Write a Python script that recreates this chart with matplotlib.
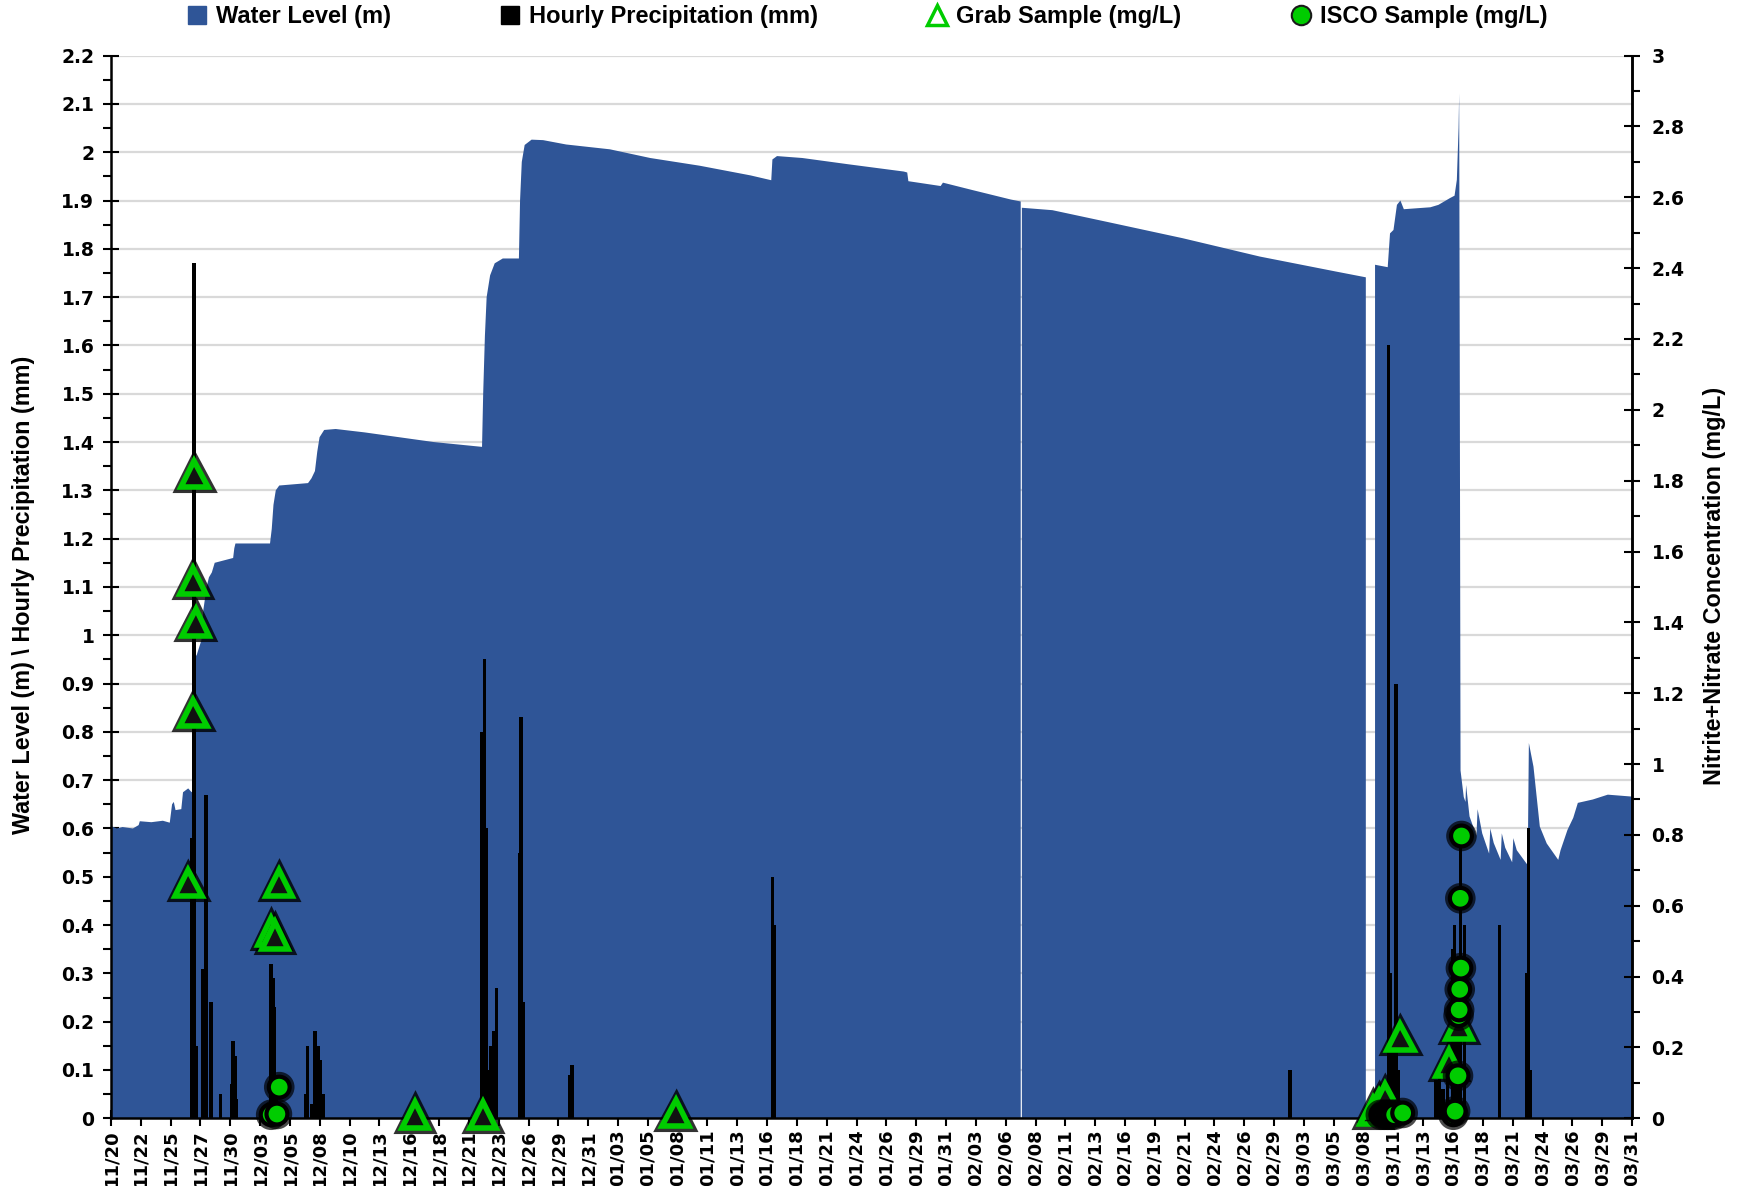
import numpy as np
import matplotlib
matplotlib.use("Agg")
import matplotlib.pyplot as plt
from matplotlib.lines import Line2D
from matplotlib import patheffects as pe
from matplotlib.ticker import MultipleLocator, FuncFormatter

# ---- data (x = days since 11/20) ----
level_day = [0.0, 0.5, 1.0, 1.9, 2.4, 2.5, 3.5, 4.5, 5.1, 5.3, 5.45, 5.6, 6.1, 6.25, 6.7, 7.0,
             7.15, 7.2, 7.45, 7.85, 8.0, 8.3, 8.5, 8.75, 9.0, 10.6, 10.7, 10.8, 13.8, 13.95,
             14.1, 14.3, 14.6, 17.1, 17.4, 17.7, 17.9, 18.1, 18.5, 19.5, 22.0, 25.0, 28.0,
             32.2, 32.3, 32.45, 32.6, 32.9, 33.3, 34.0, 35.4, 35.5, 35.65, 35.9, 36.5, 37.5,
             39.5, 43.3, 46.8, 51.1, 55.5, 57.3, 57.4, 57.8, 60.0, 64.0, 68.8, 69.1, 69.2,
             72.0, 72.2, 74.7, 78.1, 78.95, 79.0, 79.05, 81.7, 86.4, 93.0, 99.7, 106.3,
             108.9, 108.95, 109.65, 109.7, 110.8, 111.0, 111.3, 111.6, 111.9, 112.2, 114.5,
             115.2, 116.2, 116.6, 116.8, 116.95, 117.0, 117.05, 117.12, 117.4, 117.55, 117.6,
             117.9, 118.5, 118.6, 119.0, 119.6, 119.7, 120.0, 120.6, 120.7, 121.0, 121.6,
             121.7, 122.0, 122.95, 123.05, 123.45, 124.0, 124.6, 125.6, 125.8, 126.4, 126.9,
             127.3, 128.6, 129.9, 132.0]
level_m = [0.605, 0.600, 0.603, 0.600, 0.607, 0.615, 0.613, 0.616, 0.612, 0.650, 0.655, 0.638,
           0.640, 0.675, 0.683, 0.675, 0.680, 0.950, 0.960, 0.990, 1.05, 1.10, 1.12, 1.13,
           1.15, 1.16, 1.18, 1.19, 1.19, 1.22, 1.27, 1.30, 1.31, 1.315, 1.325, 1.34, 1.38,
           1.41, 1.425, 1.427, 1.42, 1.41, 1.40, 1.390, 1.50, 1.62, 1.70, 1.745, 1.77, 1.78,
           1.78, 1.90, 1.98, 2.015, 2.026, 2.025, 2.016, 2.006, 1.988, 1.972, 1.952, 1.942,
           1.985, 1.992, 1.988, 1.975, 1.960, 1.958, 1.940, 1.930, 1.937, 1.922, 1.902,
           1.898, np.nan, 1.885, 1.880, 1.856, 1.822, 1.784, 1.753, 1.741, np.nan, np.nan,
           1.767, 1.762, 1.832, 1.839, 1.891, 1.900, 1.882, 1.886, 1.891, 1.905, 1.91,
           1.943, 2.05, 2.122, 1.60, 0.72, 0.665, 0.655, 0.69, 0.625, 0.585, 0.64, 0.59,
           0.548, 0.60, 0.57, 0.535, 0.59, 0.56, 0.53, 0.58, 0.555, 0.524, 0.777, 0.728,
           0.604, 0.569, 0.535, 0.555, 0.597, 0.622, 0.653, 0.660, 0.670, 0.666]

precip_day = [7.0, 7.2, 7.4, 7.96, 8.1, 8.25, 8.68, 9.5, 10.45, 10.6, 10.75, 10.9, 13.9, 14.05,
              14.2, 14.35, 16.9, 17.05, 17.4, 17.7, 18.0, 18.15, 18.45, 32.2, 32.4, 32.6,
              32.75, 32.95, 33.25, 33.45, 35.45, 35.6, 35.8, 39.8, 40.0, 57.4, 57.6, 102.3,
              110.6, 110.85, 111.05, 111.25, 111.5, 111.7, 115.0, 115.3, 115.6, 116.0, 116.4,
              116.6, 116.8, 117.1, 117.45, 120.5, 122.9, 123.0, 123.15]
precip_mm = [0.58, 1.77, 0.15, 0.31, 0.12, 0.67, 0.24, 0.05, 0.07, 0.16, 0.13, 0.04, 0.32, 0.29,
             0.23, 0.05, 0.05, 0.15, 0.03, 0.18, 0.15, 0.12, 0.05, 0.80, 0.95, 0.60, 0.10,
             0.15, 0.18, 0.27, 0.55, 0.83, 0.24, 0.09, 0.11, 0.50, 0.40, 0.10, 0.05, 1.60,
             0.30, 0.17, 0.90, 0.10, 0.08, 0.09, 0.06, 0.10, 0.35, 0.40, 0.25, 0.57, 0.40,
             0.40, 0.30, 0.60, 0.10]

grab_day = [6.71, 7.15, 7.35, 7.09, 7.23, 13.86, 14.23, 14.6, 26.4, 32.3, 49.0,
            109.5, 110.0, 110.6, 111.9, 116.1, 117.0]
grab_mgl = [0.665, 1.145, 1.40, 1.517, 1.818, 0.527, 0.516, 0.665, 0.01, 0.01, 0.015,
            0.02, 0.04, 0.06, 0.23, 0.156, 0.26]

isco_day = [13.9, 14.4, 14.6, 110.2, 110.5, 110.8, 111.1, 111.4, 112.1,
            116.5, 116.65, 116.9, 116.95, 117.0, 117.05, 117.15, 117.1, 117.2]
isco_mgl = [0.01, 0.012, 0.088, 0.01, 0.01, 0.01, 0.01, 0.01, 0.015,
            0.01, 0.02, 0.12, 0.29, 0.306, 0.364, 0.424, 0.621, 0.797]

date_labels = ["11/20", "11/22", "11/25", "11/27", "11/30", "12/03", "12/05", "12/08",
               "12/10", "12/13", "12/16", "12/18", "12/21", "12/23", "12/26", "12/29",
               "12/31", "01/03", "01/05", "01/08", "01/11", "01/13", "01/16", "01/18",
               "01/21", "01/24", "01/26", "01/29", "01/31", "02/03", "02/06", "02/08",
               "02/11", "02/13", "02/16", "02/19", "02/21", "02/24", "02/26", "02/29",
               "03/03", "03/05", "03/08", "03/11", "03/13", "03/16", "03/18", "03/21",
               "03/24", "03/26", "03/29", "03/31"]
x_span = 132.0

# ---- styling ----
plt.rcParams["font.family"] = ["Liberation Sans", "DejaVu Sans"]
plt.rcParams["font.weight"] = "bold"
TICK_FONT = {"family": ["DejaVu Sans"], "weight": "bold"}
BLUE = "#2F5597"
GREEN = "#00CC00"

W, H = 1743, 1186
fig = plt.figure(figsize=(W / 100, H / 100), dpi=100)
x0, x1, y0, y1 = 111, 1632, 55.6, 1118.3
ax = fig.add_axes([x0 / W, 1 - y1 / H, (x1 - x0) / W, (y1 - y0) / H])

# water level area
ax.fill_between(level_day, 0, level_m, color=BLUE, linewidth=0, zorder=1)
# hourly precipitation
ax.bar(precip_day, precip_mm, width=0.3, color="black", linewidth=0, zorder=2)

ax.set_xlim(0, x_span)
ax.set_ylim(0, 2.2)
ax.yaxis.set_major_locator(MultipleLocator(0.1))
ax.yaxis.set_minor_locator(MultipleLocator(0.05))
fmt = FuncFormatter(lambda v, p: f"{round(v, 2):g}")
ax.yaxis.set_major_formatter(fmt)
ax.set_axisbelow(True)
ax.yaxis.grid(True, which="major", color="#D9D9D9", linewidth=1.6)

ax.set_xticks(np.linspace(0, x_span, len(date_labels)))
ax.set_xticklabels(date_labels, rotation=90, fontsize=13, **TICK_FONT)
ax.tick_params(axis="x", direction="inout", length=12, width=1.5, pad=2)
ax.tick_params(axis="y", which="major", direction="inout", length=12, width=1.5, pad=6)
ax.tick_params(axis="y", which="minor", direction="out", length=6, width=1.5)
for lab in ax.get_yticklabels():
    lab.set_fontsize(13.5)
    lab.set_fontfamily("DejaVu Sans")
for s in ["left", "bottom", "right"]:
    ax.spines[s].set_linewidth(1.8)
    ax.spines[s].set_color("black")
ax.spines["top"].set_visible(False)

# concentration axis
ax2 = ax.twinx()
ax2.set_ylim(0, 3)
ax2.yaxis.set_major_locator(MultipleLocator(0.2))
ax2.yaxis.set_minor_locator(MultipleLocator(0.1))
ax2.yaxis.set_major_formatter(fmt)
ax2.tick_params(axis="y", which="major", direction="inout", length=12, width=1.5, pad=8)
ax2.tick_params(axis="y", which="minor", direction="out", length=6, width=1.5)
for lab in ax2.get_yticklabels():
    lab.set_fontsize(13.5)
    lab.set_fontfamily("DejaVu Sans")
for s in ["left", "bottom", "top"]:
    ax2.spines[s].set_visible(False)
ax2.spines["right"].set_linewidth(1.8)

glow_tri = [pe.Stroke(linewidth=8, foreground="black", alpha=0.8), pe.Normal()]
glow_dot = [pe.Stroke(linewidth=7, foreground="black", alpha=0.7), pe.Normal()]
ax2.plot(grab_day, grab_mgl, linestyle="none", marker="^", markersize=19,
         markerfacecolor="#111111", markeredgecolor=GREEN, markeredgewidth=4,
         path_effects=glow_tri, zorder=5, clip_on=False)
ax2.plot(isco_day, isco_mgl, linestyle="none", marker="o", markersize=15,
         markerfacecolor=GREEN, markeredgecolor="black", markeredgewidth=3,
         path_effects=glow_dot, zorder=6, clip_on=False)

# axis titles
fig.text(24 / W, 0.498, "Water Level (m) \\ Hourly Precipitation (mm)", rotation=90,
         ha="center", va="center", fontsize=16.8, fontweight="bold")
fig.text(1715 / W, 0.506, "Nitrite+Nitrate Concentration (mg/L)", rotation=90,
         ha="center", va="center", fontsize=16.8, fontweight="bold")

# legend
handles = [
    Line2D([], [], linestyle="none", marker="s", markersize=13, markerfacecolor=BLUE,
           markeredgecolor=BLUE),
    Line2D([], [], linestyle="none", marker="s", markersize=13, markerfacecolor="black",
           markeredgecolor="black"),
    Line2D([], [], linestyle="none", marker="^", markersize=14, markerfacecolor="white",
           markeredgecolor=GREEN, markeredgewidth=2.5),
    Line2D([], [], linestyle="none", marker="o", markersize=14, markerfacecolor=GREEN,
           markeredgecolor="#1a1a1a", markeredgewidth=1.5),
]
labels = ["Water Level (m)", "Hourly Precipitation (mm)", "Grab Sample (mg/L)",
          "ISCO Sample (mg/L)"]
fig.legend(handles, labels, loc="center", bbox_to_anchor=(0.497, 1 - 17 / H), ncol=4,
           frameon=False, prop={"size": 17.0, "weight": "bold"}, handlelength=1.0,
           handletextpad=0.3, columnspacing=4.55, borderaxespad=0, borderpad=0)

fig.savefig("out.png", dpi=100)
